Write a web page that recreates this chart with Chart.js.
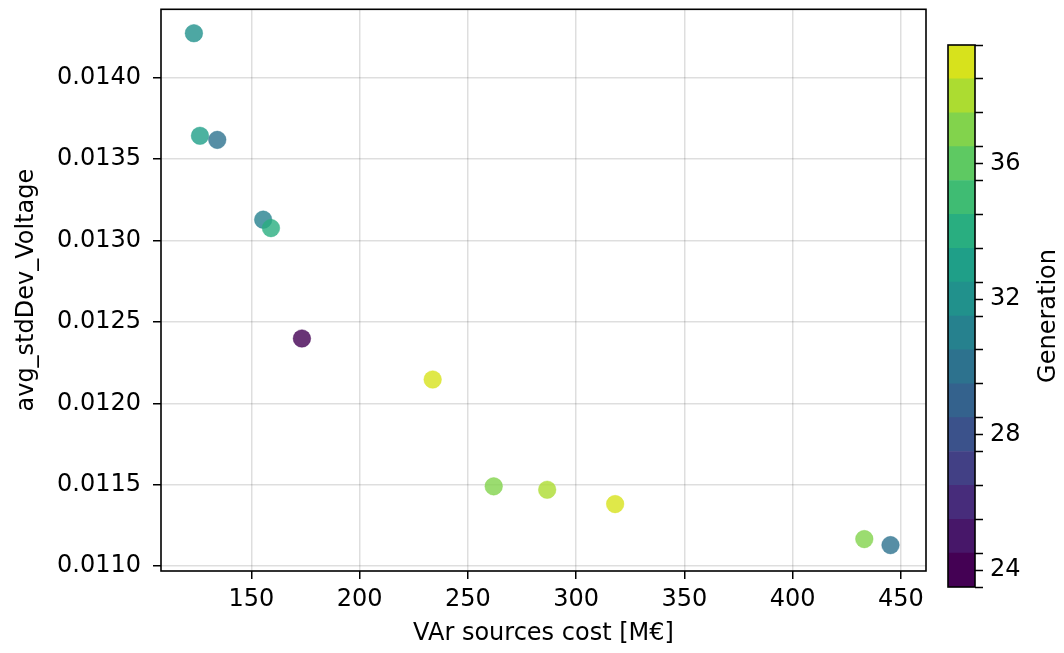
<!DOCTYPE html>
<html>
<head>
<meta charset="utf-8">
<script src="https://cdn.jsdelivr.net/npm/chart.js@4"></script>
<style>
  body { margin: 0; background: #fff; }
  #plot { position: absolute; left: 0; top: 0; }
  #cbar { position: absolute; left: 940px; top: 0; }
</style>
</head>
<body>
<canvas id="plot" width="1064" height="653"></canvas>
<canvas id="cbar" width="124" height="653"></canvas>
<script>
// pareto front of the last run: cost vs. mean voltage std dev, coloured by generation
const cost = [123.4, 126.2, 134.2, 155.4, 159.0, 173.3, 233.7, 261.9, 286.6, 318.0, 433.1, 445.2];
const stdDevVoltage = [0.014273, 0.013643, 0.013618, 0.013128, 0.013076, 0.012398, 0.012146, 0.011490, 0.011469, 0.011381, 0.011166, 0.011129];
const generation = [32, 33, 30, 31, 34, 24, 39, 37, 38, 39, 37, 30];

const xTicks = [150, 200, 250, 300, 350, 400, 450];
const yTicks = [0.0110, 0.0115, 0.0120, 0.0125, 0.0130, 0.0135, 0.0140];
const genTicks = [24, 28, 32, 36];
const genMin = 24;
const genMax = 39;

// viridis, sampled every 0.05
const viridis = ['#440154', '#471365', '#482475', '#463480', '#414487', '#3b528b', '#355f8d',
  '#2f6c8e', '#2a788e', '#25848e', '#21918c', '#1e9c89', '#22a884', '#2fb47c', '#44bf70',
  '#5ec962', '#7ad151', '#9bd93c', '#bddf26', '#dfe318', '#fde725'];

function hexRgb(h) {
    return [1, 3, 5].map(i => parseInt(h.slice(i, i + 2), 16));
}

function viridisAt(t, alpha) {
    const p = Math.min(Math.max(t, 0), 1) * (viridis.length - 1);
    const i = Math.min(Math.floor(p), viridis.length - 2);
    const f = p - i;
    const a = hexRgb(viridis[i]);
    const b = hexRgb(viridis[i + 1]);
    const c = a.map((v, k) => Math.round(v + (b[k] - v) * f));
    return `rgba(${c[0]}, ${c[1]}, ${c[2]}, ${alpha})`;
}

// one discrete colour per generation
const nBands = genMax - genMin + 1;
function genColor(g, alpha) {
    return viridisAt((g - genMin) / nBands, alpha);
}

Chart.defaults.font.family = 'DejaVu Sans';
Chart.defaults.font.size = 24;
Chart.defaults.color = '#000';

const frame = {
    id: 'frame',
    afterDraw(chart) {
        const { ctx, chartArea: a } = chart;
        ctx.save();
        ctx.strokeStyle = '#000';
        ctx.lineWidth = 1.6;
        ctx.strokeRect(a.left, a.top, a.right - a.left, a.bottom - a.top);
        ctx.restore();
    }
};

// keep the axes from reserving room for half a tick label
function noOverflow(s) {
    s.paddingTop = 0;
    s.paddingBottom = 0;
    s.paddingLeft = 0;
    s.paddingRight = 0;
}

new Chart(document.getElementById('plot'), {
    type: 'scatter',
    data: {
        datasets: [{
            data: cost.map((c, i) => ({ x: c, y: stdDevVoltage[i] })),
            pointRadius: 8.8,
            pointHoverRadius: 8.8,
            pointBackgroundColor: generation.map(g => genColor(g, 0.8)),
            pointBorderColor: generation.map(g => genColor(g, 0.8)),
            pointBorderWidth: 0.5
        }]
    },
    options: {
        responsive: false,
        animation: false,
        events: [],
        layout: { padding: { left: 0, top: 9, right: 138, bottom: 0 } },
        plugins: { legend: { display: false }, tooltip: { enabled: false } },
        scales: {
            x: {
                type: 'linear',
                min: 108.2,
                max: 461.6,
                afterBuildTicks: s => { s.ticks = xTicks.map(v => ({ value: v })); },
                afterFit: s => { s.height = 82; noOverflow(s); },
                ticks: { padding: 6, autoSkip: false, maxRotation: 0, callback: v => String(v) },
                grid: { color: 'rgba(0,0,0,0.13)', lineWidth: 1.5, tickColor: '#000', tickLength: 8, tickWidth: 1.5 },
                border: { display: false },
                title: { display: true, text: 'VAr sources cost [M€]', padding: { top: 0, bottom: 5 } }
            },
            y: {
                type: 'linear',
                min: 0.01097,
                max: 0.01442,
                afterBuildTicks: s => { s.ticks = yTicks.map(v => ({ value: v })); },
                afterFit: s => { s.width = 161; noOverflow(s); },
                ticks: { padding: 12, autoSkip: false, callback: v => v.toFixed(4) },
                grid: { color: 'rgba(0,0,0,0.13)', lineWidth: 1.5, tickColor: '#000', tickLength: 8, tickWidth: 1.5 },
                border: { display: false },
                title: { display: true, text: 'avg_stdDev_Voltage', padding: { top: 12, bottom: 0 } }
            }
        }
    },
    plugins: [frame]
});

// colour bar: one floating bar per generation band
const bandLabel = {
    id: 'bandLabel',
    afterDraw(chart) {
        const { ctx, chartArea: a } = chart;
        ctx.save();
        ctx.translate(a.right + 74, (a.top + a.bottom) / 2);
        ctx.rotate(-Math.PI / 2);
        ctx.font = '24px "DejaVu Sans"';
        ctx.fillStyle = '#000';
        ctx.textAlign = 'center';
        ctx.textBaseline = 'middle';
        ctx.fillText('Generation', 0, 0);
        ctx.restore();
    }
};

const bands = [];
for (let g = genMin; g <= genMax; g++) {
    bands.push({
        data: [[g - 0.5, g + 0.5]],
        backgroundColor: genColor(g, 1),
        borderWidth: 0,
        barPercentage: 1,
        categoryPercentage: 1
    });
}
const edges = bands.map(b => b.data[0][0]).concat([genMax + 0.5]);

new Chart(document.getElementById('cbar'), {
    type: 'bar',
    data: { labels: ['gen'], datasets: bands },
    options: {
        responsive: false,
        animation: false,
        events: [],
        layout: { padding: { left: 8, top: 45, right: 0, bottom: 66 } },
        plugins: { legend: { display: false }, tooltip: { enabled: false } },
        scales: {
            x: { display: false, stacked: true },
            y: {
                position: 'right',
                min: genMin - 0.5,
                max: genMax + 0.5,
                afterBuildTicks: s => {
                    s.ticks = edges.concat(genTicks).sort((p, q) => p - q).map(v => ({ value: v }));
                },
                afterFit: s => { s.width = 89; noOverflow(s); },
                ticks: { padding: 7, autoSkip: false, callback: v => genTicks.includes(v) ? String(v) : '' },
                grid: { drawOnChartArea: false, tickColor: '#000', tickLength: 8, tickWidth: 1.5 },
                border: { display: false }
            }
        }
    },
    plugins: [frame, bandLabel]
});
</script>
</body>
</html>
